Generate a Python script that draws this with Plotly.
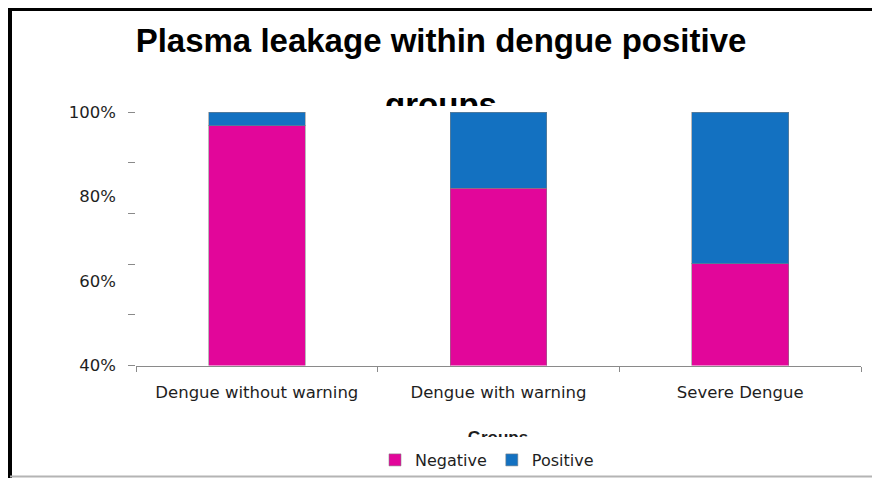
import plotly.graph_objects as go

# Share of cases (%) with/without plasma leakage in each dengue group
categories = ["Dengue without warning", "Dengue with warning", "Severe Dengue"]
negative = [96.7, 82.0, 64.1]
positive = [3.3, 18.0, 35.9]

y_tick_values = [40, 60, 80, 100]
y_tick_labels = ["40%", "60%", "80%", "100%"]
y_minor_ticks = [40, 52, 64, 76, 88, 100]

title_lines = ["Plasma leakage within dengue positive", "groups"]
x_title = "Groups"

W, H = 872, 478
NEG_COLOR = "#E2069A"
POS_COLOR = "#1371C1"
AXIS_GRAY = "#8a8a8a"
TICK_FONT = dict(family="DejaVu Sans", size=16.5, color="#1e1e1e")

fig = go.Figure()

fig.add_trace(go.Bar(
    x=categories, y=negative, name="Negative", width=0.4,
    marker=dict(color=NEG_COLOR, line=dict(color="rgba(130,130,130,0.55)", width=1)),
))
fig.add_trace(go.Bar(
    x=categories, y=positive, name="Positive", width=0.4,
    marker=dict(color=POS_COLOR, line=dict(color="rgba(130,130,130,0.55)", width=1)),
))

# Title text, clipped at the top of the plotting area like the source chart
fig.add_trace(go.Scatter(
    x=[441, 441], y=[44, 108],
    text=[f"<b>{t}</b>" for t in title_lines],
    mode="text", textposition="middle center",
    textfont=dict(family="Liberation Sans", size=33, color="#000000"),
    cliponaxis=True, showlegend=False, hoverinfo="skip",
    xaxis="x2", yaxis="y2",
))

# Category axis title, clipped just below its cap line
fig.add_trace(go.Scatter(
    x=[498], y=[438.5],
    text=[f"<b>{x_title}</b>"],
    mode="text", textposition="middle center",
    textfont=dict(family="Liberation Sans", size=17, color="#1e1e1e"),
    cliponaxis=True, showlegend=False, hoverinfo="skip",
    xaxis="x2", yaxis="y3",
))

fig.update_layout(
    width=W, height=H,
    margin=dict(l=0, r=0, t=0, b=0, autoexpand=False),
    paper_bgcolor="white", plot_bgcolor="white",
    barmode="stack",
    showlegend=True,
    legend=dict(
        orientation="h", x=487 / W, xanchor="center",
        y=1 - 460 / H, yanchor="middle",
        font=dict(family="DejaVu Sans", size=16, color="#1e1e1e"),
        itemwidth=30, traceorder="normal",
        bgcolor="rgba(0,0,0,0)",
    ),
    xaxis=dict(
        domain=[136 / W, 861 / W],
        showline=True, linecolor=AXIS_GRAY, linewidth=1,
        ticks="outside", tickson="boundaries", ticklen=5, tickcolor=AXIS_GRAY,
        tickfont=TICK_FONT, ticklabelstandoff=12,
        showgrid=False, zeroline=False, fixedrange=True,
    ),
    yaxis=dict(
        domain=[1 - 365.5 / H, 1 - 112 / H],
        range=[40, 100],
        tickvals=y_tick_values, ticktext=y_tick_labels,
        ticks="", tickfont=TICK_FONT, ticklabelstandoff=19,
        minor=dict(tickvals=y_minor_ticks, ticks="outside", ticklen=7,
                   tickcolor=AXIS_GRAY, showgrid=False),
        showline=False, showgrid=False, zeroline=False, fixedrange=True,
    ),
    xaxis2=dict(domain=[0, 1], range=[0, W], visible=False, fixedrange=True),
    yaxis2=dict(domain=[1 - 106 / H, 1], range=[106, 0], visible=False,
                fixedrange=True),
    yaxis3=dict(domain=[1 - 437 / H, 1 - 415 / H], range=[437, 415],
                visible=False, fixedrange=True),
    shapes=[
        dict(type="line", xref="paper", yref="paper",
             x0=8 / W, x1=1, y0=1 - 9.5 / H, y1=1 - 9.5 / H,
             line=dict(color="black", width=3)),
        dict(type="line", xref="paper", yref="paper",
             x0=10 / W, x1=10 / W, y0=0, y1=1 - 8 / H,
             line=dict(color="black", width=4)),
        dict(type="line", xref="paper", yref="paper",
             x0=10 / W, x1=1, y0=1.5 / H, y1=1.5 / H,
             line=dict(color="#b4b4b4", width=2)),
    ],
)

fig.write_html("out.html")
